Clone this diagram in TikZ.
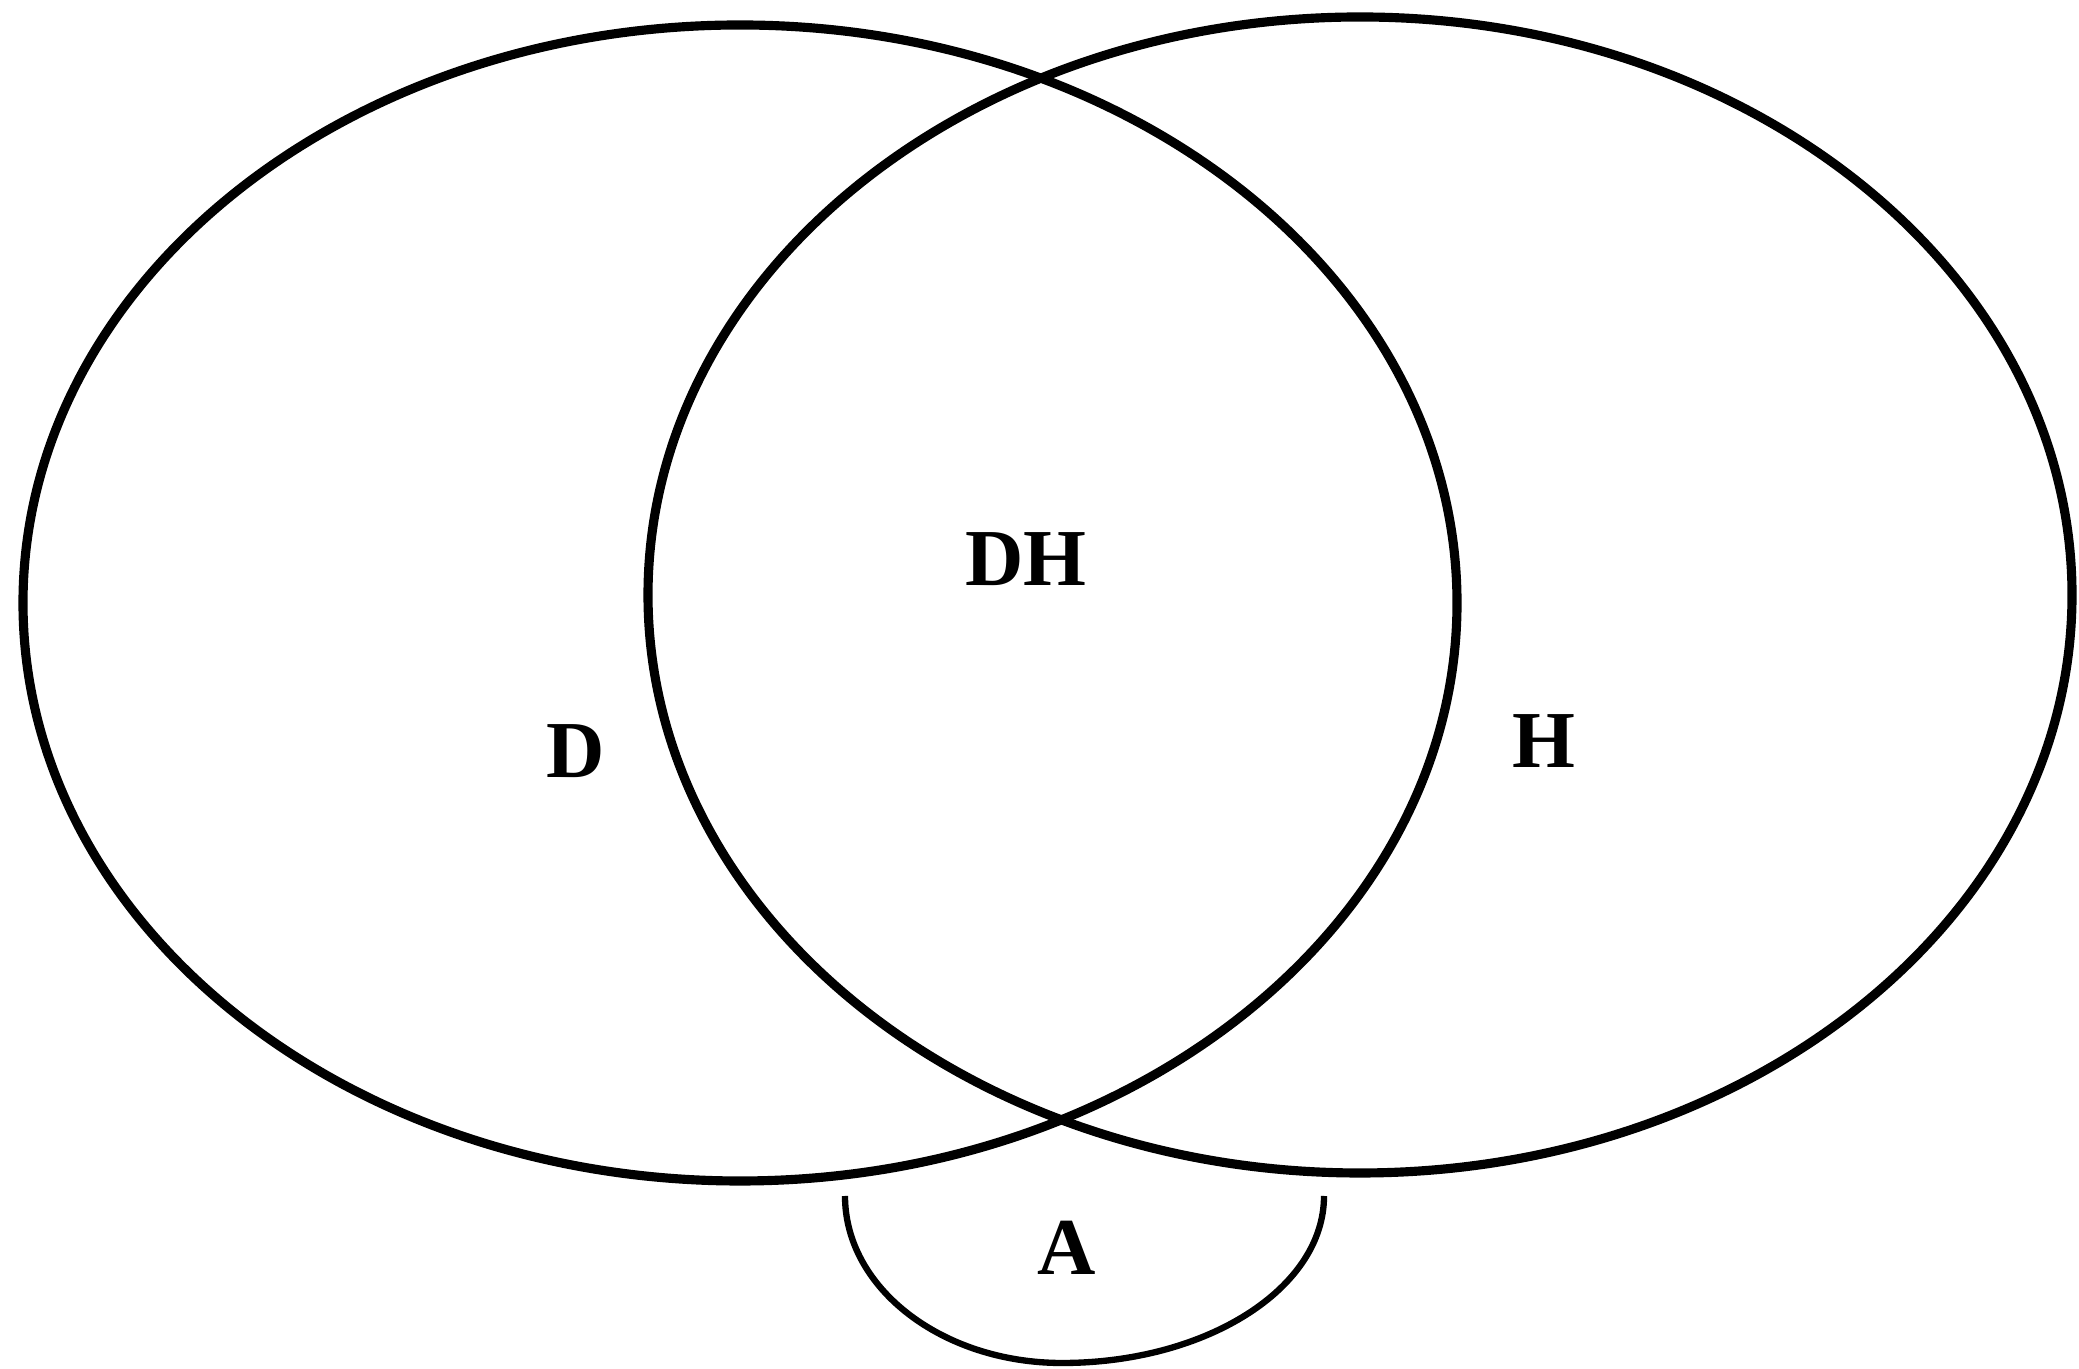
\documentclass[tikz,border=0pt]{standalone}
\usepackage{fontspec}
\setmainfont{Liberation Serif}
\usepackage{tikz}
\tikzset{
  setline/.style={line width=2.6pt, black},
  subline/.style={line width=1.8pt, black},
  setlabel/.style={font=\fontsize{23}{26}\selectfont\bfseries, inner sep=0pt},
}

\begin{document}
\begin{tikzpicture}
\useasboundingbox (0,0) rectangle (20.79,13.69);
\coordinate (dc) at (7.40,7.66);
\coordinate (hc) at (13.60,7.74);
\coordinate (aleft) at (8.45,1.73);
\draw[setline] (dc) ellipse [x radius=7.17, y radius=5.78];
\draw[setline] (hc) ellipse [x radius=7.12, y radius=5.78];
\draw[subline] (aleft) arc [start angle=180, end angle=270, x radius=2.17, y radius=1.67]
  arc [start angle=270, end angle=360, x radius=2.62, y radius=1.67];
\node[setlabel] (dh) at (10.26,8.10) {DH};
\node[setlabel] (d) at (5.76,6.18) {D};
\node[setlabel] (h) at (15.44,6.28) {H};
\node[setlabel] (a) at (10.67,1.21) {A};
\end{tikzpicture}
\end{document}
